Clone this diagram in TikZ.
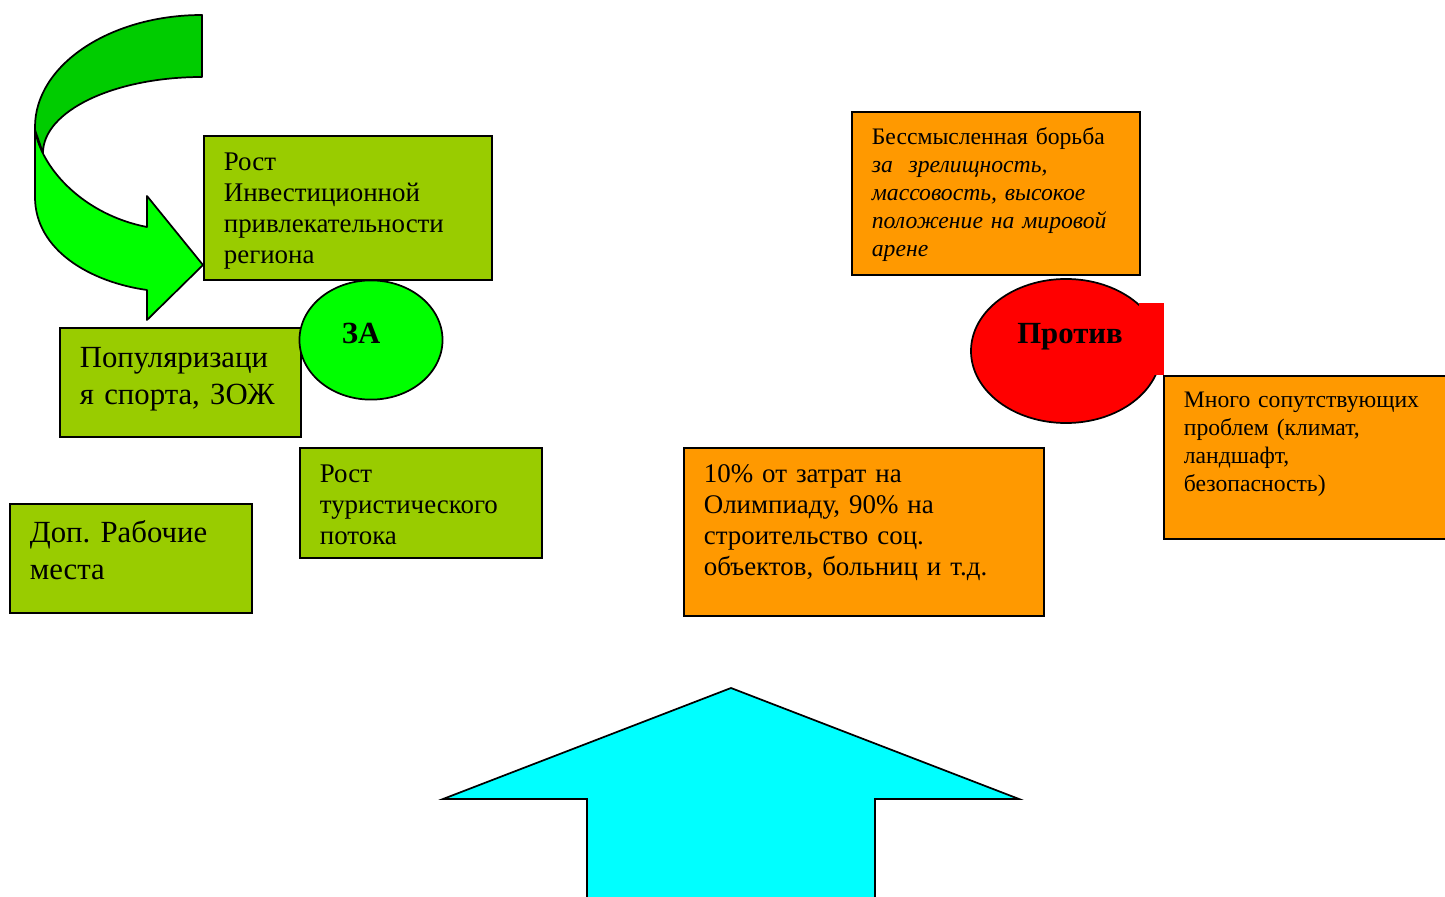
\documentclass[tikz,border=0pt]{standalone}
\usepackage{fontspec}
\setmainfont{Liberation Serif}
\usetikzlibrary{shapes.geometric}
\definecolor{boxgreen}{HTML}{99CC00}
\definecolor{boxorange}{HTML}{FF9900}
\definecolor{lightgreen}{HTML}{00FF00}
\definecolor{darkgreen}{HTML}{00CC00}
\definecolor{hotred}{HTML}{FF0000}
\definecolor{skycyan}{HTML}{00FFFF}
\newcommand{\fontS}{\fontsize{12.3}{14.56}\selectfont}
\newcommand{\fontM}{\fontsize{14}{16.1}\selectfont}
\newcommand{\fontL}{\fontsize{16}{19.2}\selectfont}
\frenchspacing

\begin{document}
\begin{tikzpicture}[
		% GLOBAL CFG
		x=0.52pt, y=-0.52pt,
		% Styles
		plus/.style={% green boxes (arguments for)
			rectangle,
			draw,
			line width=0.9pt,
			fill=boxgreen,
			anchor=north west,
			inner xsep=10.4pt,
			inner ysep=0pt,
			align=left,
		},
		minus/.style={% orange boxes (arguments against)
			plus,
			fill=boxorange,
		},
		side/.style={% the two round labels
			ellipse,
			draw,
			line width=0.9pt,
			inner sep=0pt,
		},
		ribbon/.style={% bent arrow
			draw,
			line width=0.9pt,
			line join=round,
		},
		]
		\useasboundingbox (0,0) rectangle (1445,897);
		
		% Bent arrow, front part then back part
		\draw [ribbon, fill=lightgreen] (35,130) -- (35,197)
			.. controls (35,250) and (90,282) .. (147,290)
			-- (147,320) -- (203,265) -- (147,196) -- (147,227)
			.. controls (85,215) and (42,170) .. (35,130) -- cycle;
		\draw [ribbon, fill=darkgreen] (202,15)
			.. controls (110,15) and (35,65) .. (35,127)
			-- (35,130) -- (43,153)
			.. controls (43,111) and (114,77) .. (202,77) -- cycle;
		
		% Arguments for
		\node [plus, font=\fontM, text width=128.96pt, text height=18.2pt, text depth=56.68pt]
			(invest) at (203,135) {Рост\\Инвестиционной\\привлекательности\\региона};
		\node [plus, font=\fontL, text width=104.52pt, text height=20.8pt, text depth=35.88pt]
			(sport) at (59,327) {Популяризаци\\я спорта, ЗОЖ};
		\node [plus, font=\fontL, text width=105.04pt, text height=20.28pt, text depth=36.4pt]
			(jobs) at (9,503) {Доп. Рабочие\\места};
		\node [plus, font=\fontM, text width=105.04pt, text height=18.2pt, text depth=39pt]
			(tourism) at (299,447) {Рост\\туристического\\потока};
		\node [side, fill=lightgreen, minimum width=74.4pt, minimum height=62pt,
			label={[font=\fontL\bfseries, shift={(-10,-7)}]center:ЗА}]
			(pro) at (371,340) {};
		
		% Arguments against
		\node [minus, font=\fontS, text width=128.96pt, text height=17.16pt, text depth=67.6pt]
			(fight) at (851,111) {Бессмысленная борьба\\\itshape за~ зрелищность,\\\itshape массовость, высокое\\\itshape положение на мировой\\\itshape арене};
		\node [side, fill=hotred, minimum width=98.8pt, minimum height=74.9pt,
			label={[font=\fontL\bfseries, shift={(4,-14)}]center:Против}]
			(contra) at (1066,351) {};
		\fill [hotred] (1139,303) rectangle (1164,375);
		\node [minus, font=\fontS, text width=133.64pt, text height=16.64pt, text depth=68.12pt]
			(many) at (1163,375) {Много сопутствующих\\проблем (климат,\\ландшафт,\\безопасность)};
		\node [minus, font=\fontM, text width=166.4pt, text height=18.2pt, text depth=69.16pt]
			(share) at (683,447) {10\% от затрат на\\Олимпиаду, 90\% на\\строительство соц.\\объектов, больниц и т.д.};
		
		% Up arrow
		\draw [ribbon, line join=miter, fill=skycyan] (731,688) -- (1019,799) -- (875,799)
			-- (875,910) -- (587,910) -- (587,799) -- (443,799) -- cycle;
	\end{tikzpicture}
\end{document}
